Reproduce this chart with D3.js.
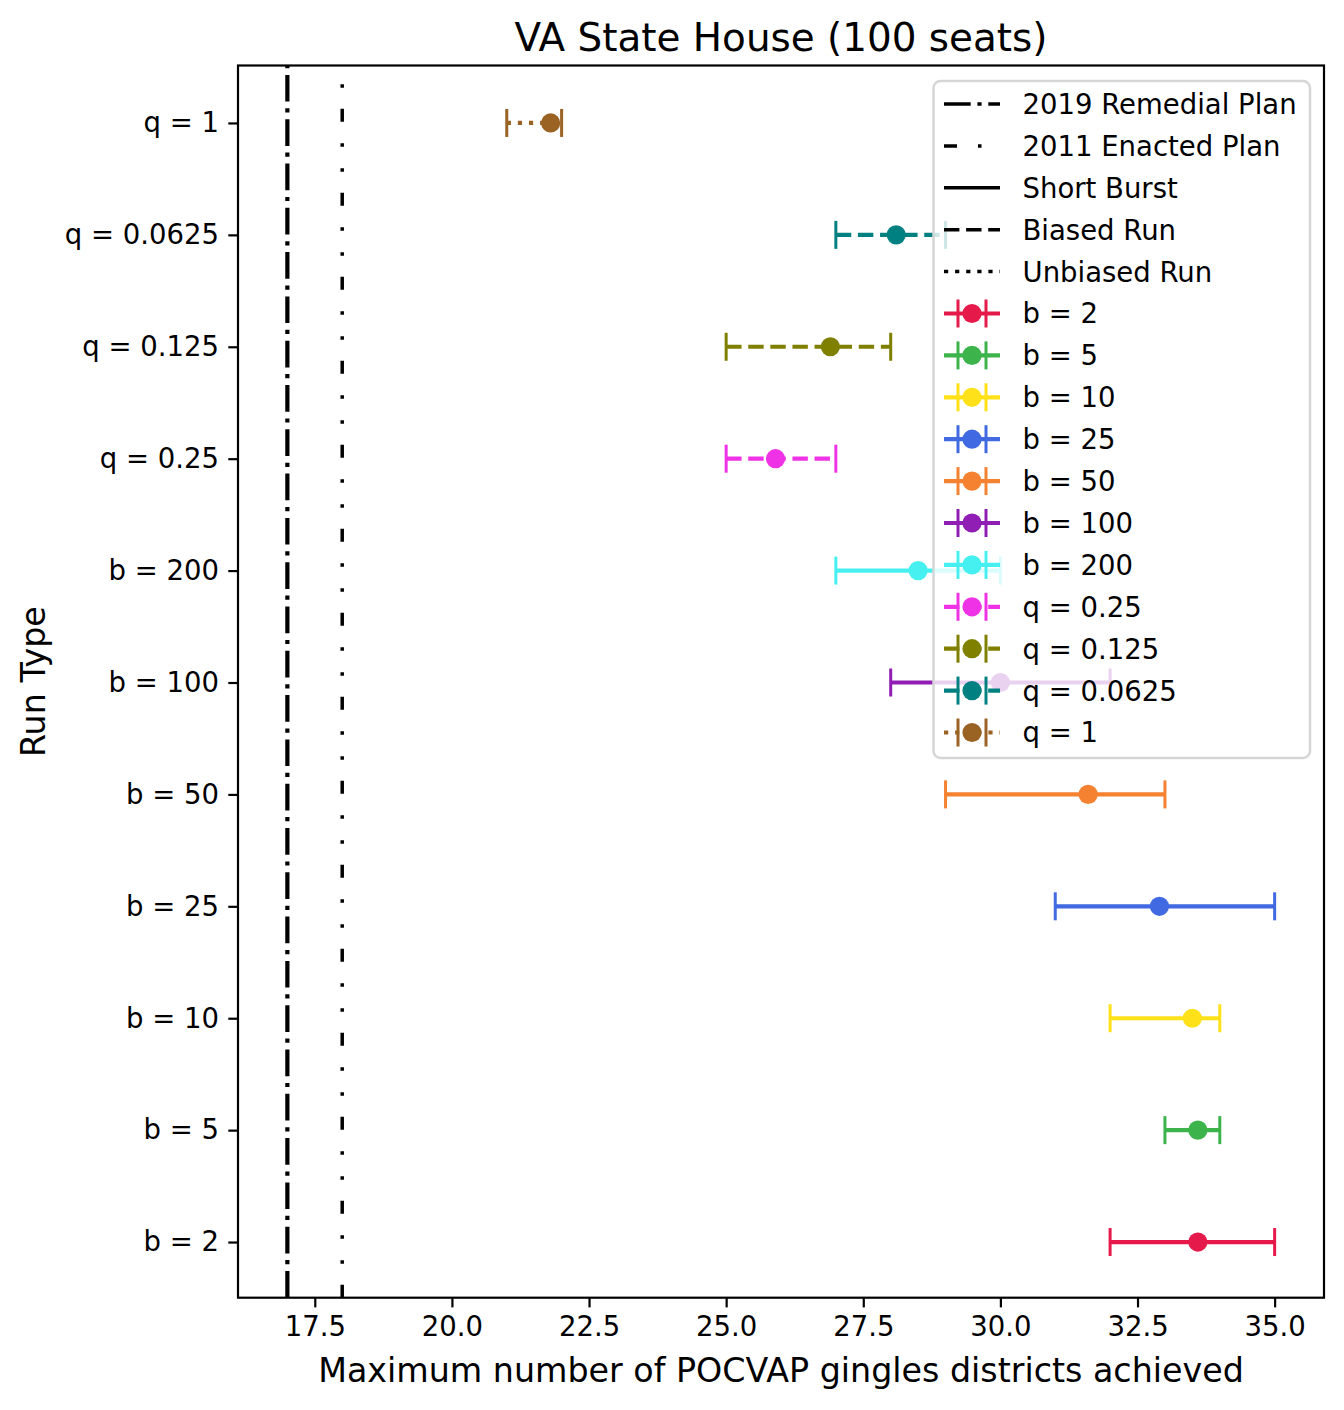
<!DOCTYPE html>
<html lang="en">
<head>
<meta charset="UTF-8">
<title>VA State House</title>
<script src="https://d3js.org/d3.v7.min.js"></script>
<style>
  body { margin: 0; background: #fff; }
  text { font-family: "DejaVu Sans", sans-serif; fill: #000; }
</style>
</head>
<body>
<script>
// run types, bottom to top in the picture
var runTypes = ["b = 2", "b = 5", "b = 10", "b = 25", "b = 50", "b = 100", "b = 200",
                "q = 0.25", "q = 0.125", "q = 0.0625", "q = 1"];
var means = [33.6, 33.6, 33.5, 32.9, 31.6, 30.0, 28.5, 25.9, 26.9, 28.1, 21.8];
var lows  = [32, 33, 32, 31, 29, 28, 27, 25, 25, 27, 21];
var highs = [35, 34, 34, 35, 33, 32, 30, 27, 28, 29, 22];
var runStyles = ["solid", "solid", "solid", "solid", "solid", "solid", "solid",
                 "dashed", "dashed", "dashed", "dotted"];
var colors = ["#e6194b", "#3cb44b", "#ffe119", "#4169e1", "#f58231", "#911eb4", "#46f0f0",
              "#f032e6", "#808000", "#008080", "#9a6324"];

var planNames = ["2019 Remedial Plan", "2011 Enacted Plan"];
var planValues = [17, 18];
var styleNames = ["Short Burst", "Biased Run", "Unbiased Run"];
var xTicks = [17.5, 20.0, 22.5, 25.0, 27.5, 30.0, 32.5, 35.0];

var W = 1344, H = 1410;
var plotL = 238, plotR = 1324, plotT = 65.5, plotB = 1297.7;

// dash patterns in px
var dashes = {
  solid: null,
  dashed: "15.4,6.7",
  dotted: "4.2,6.9",
  dashdot: "26.7,6.7,4.2,6.7",
  dashdotdot: "13,21,3.5,21.5,3.5,21.5"
};
var planStyles = ["dashdot", "dashdotdot"];
var planWidths = [4.2, 3.5];

var svg = d3.select("body").append("svg").attr("width", W).attr("height", H);

var x = d3.scaleLinear().domain([16.1, 35.9]).range([plotL, plotR]);
var y = d3.scalePoint().domain(runTypes.slice().reverse()).range([67, 1298]).padding(0.5);

// axes
svg.append("g")
  .attr("transform", "translate(0," + plotB + ")")
  .call(d3.axisBottom(x).tickValues(xTicks).tickFormat(d3.format(".1f"))
    .tickSize(9.7).tickPadding(9.3).tickSizeOuter(0))
  .call(function(g) {
    g.select(".domain").remove();
    g.selectAll("line").attr("stroke-width", 2.2);
    g.selectAll("text").attr("font-size", 27.5).attr("font-family", "DejaVu Sans");
  });

svg.append("g")
  .attr("transform", "translate(" + plotL + ",0)")
  .call(d3.axisLeft(y).tickSize(9.7).tickPadding(9.3).tickSizeOuter(0))
  .call(function(g) {
    g.select(".domain").remove();
    g.selectAll("line").attr("stroke-width", 2.2);
    g.selectAll("text").attr("font-size", 27.5).attr("font-family", "DejaVu Sans");
  });

// plan reference lines (drawn bottom to top so the dash phase starts at the x axis)
svg.selectAll(".plan")
  .data(planValues)
  .enter().append("line")
  .attr("class", "plan")
  .attr("x1", function(d) { return x(d); })
  .attr("x2", function(d) { return x(d); })
  .attr("y1", plotB).attr("y2", plotT)
  .attr("stroke", "#000")
  .attr("stroke-width", function(d, i) { return planWidths[i]; })
  .attr("stroke-dasharray", function(d, i) { return dashes[planStyles[i]]; });

// error bars
var bars = svg.selectAll(".bar")
  .data(runTypes)
  .enter().append("g")
  .attr("class", "bar")
  .attr("transform", function(d) { return "translate(0," + y(d) + ")"; });

bars.append("line")
  .attr("x1", function(d, i) { return x(lows[i]); })
  .attr("x2", function(d, i) { return x(highs[i]); })
  .attr("stroke", function(d, i) { return colors[i]; })
  .attr("stroke-width", 4.2)
  .attr("stroke-dasharray", function(d, i) { return dashes[runStyles[i]]; });

bars.selectAll(".cap")
  .data(function(d, i) { return [{v: lows[i], c: colors[i]}, {v: highs[i], c: colors[i]}]; })
  .enter().append("line")
  .attr("class", "cap")
  .attr("x1", function(d) { return x(d.v); })
  .attr("x2", function(d) { return x(d.v); })
  .attr("y1", -14).attr("y2", 14)
  .attr("stroke", function(d) { return d.c; })
  .attr("stroke-width", 3);

bars.append("circle")
  .attr("cx", function(d, i) { return x(means[i]); })
  .attr("r", 9.6)
  .attr("fill", function(d, i) { return colors[i]; });

// frame
svg.append("rect")
  .attr("x", plotL).attr("y", plotT)
  .attr("width", plotR - plotL).attr("height", plotB - plotT)
  .attr("fill", "none").attr("stroke", "#000").attr("stroke-width", 2.2);

// legend
var legendItems = [];
planNames.forEach(function(n, i) { legendItems.push({label: n, kind: "line", dash: dashes[planStyles[i]], w: 3.5}); });
styleNames.forEach(function(n, i) { legendItems.push({label: n, kind: "line", dash: dashes[["solid", "dashed", "dotted"][i]], w: 3.5}); });
runTypes.forEach(function(n, i) { legendItems.push({label: n, kind: "bar", dash: dashes[runStyles[i]], color: colors[i]}); });

var lg = svg.append("g");
lg.append("rect")
  .attr("x", 933.5).attr("y", 81).attr("width", 376.5).attr("height", 677)
  .attr("rx", 7).attr("ry", 7)
  .attr("fill", "#fff").attr("fill-opacity", 0.8)
  .attr("stroke", "#d6d6d6").attr("stroke-width", 2.5);

var row = lg.selectAll(".row")
  .data(legendItems)
  .enter().append("g")
  .attr("class", "row")
  .attr("transform", function(d, i) { return "translate(0," + (104 + i * 41.9) + ")"; });

row.append("line")
  .attr("x1", 944).attr("x2", 1000)
  .attr("stroke", function(d) { return d.kind === "bar" ? d.color : "#000"; })
  .attr("stroke-width", function(d) { return d.kind === "bar" ? 4.2 : d.w; })
  .attr("stroke-dasharray", function(d) { return d.dash; });

var barRows = row.filter(function(d) { return d.kind === "bar"; });
barRows.selectAll(".lcap")
  .data(function(d) { return [{x: 958, c: d.color}, {x: 986, c: d.color}]; })
  .enter().append("line")
  .attr("class", "lcap")
  .attr("x1", function(d) { return d.x; }).attr("x2", function(d) { return d.x; })
  .attr("y1", -14).attr("y2", 14)
  .attr("stroke", function(d) { return d.c; })
  .attr("stroke-width", 3);
barRows.append("circle")
  .attr("cx", 972).attr("r", 9.6)
  .attr("fill", function(d) { return d.color; });

row.append("text")
  .attr("x", 1022.5)
  .attr("dy", "0.36em")
  .attr("font-size", 27.5)
  .text(function(d) { return d.label; });

// titles
svg.append("text")
  .attr("x", (plotL + plotR) / 2).attr("y", 51)
  .attr("text-anchor", "middle").attr("font-size", 38.9)
  .text("VA State House (100 seats)");

svg.append("text")
  .attr("x", (plotL + plotR) / 2).attr("y", 1382)
  .attr("text-anchor", "middle").attr("font-size", 33.3)
  .text("Maximum number of POCVAP gingles districts achieved");

svg.append("text")
  .attr("transform", "translate(45," + ((plotT + plotB) / 2) + ") rotate(-90)")
  .attr("text-anchor", "middle").attr("font-size", 33.3)
  .text("Run Type");
</script>
</body>
</html>
